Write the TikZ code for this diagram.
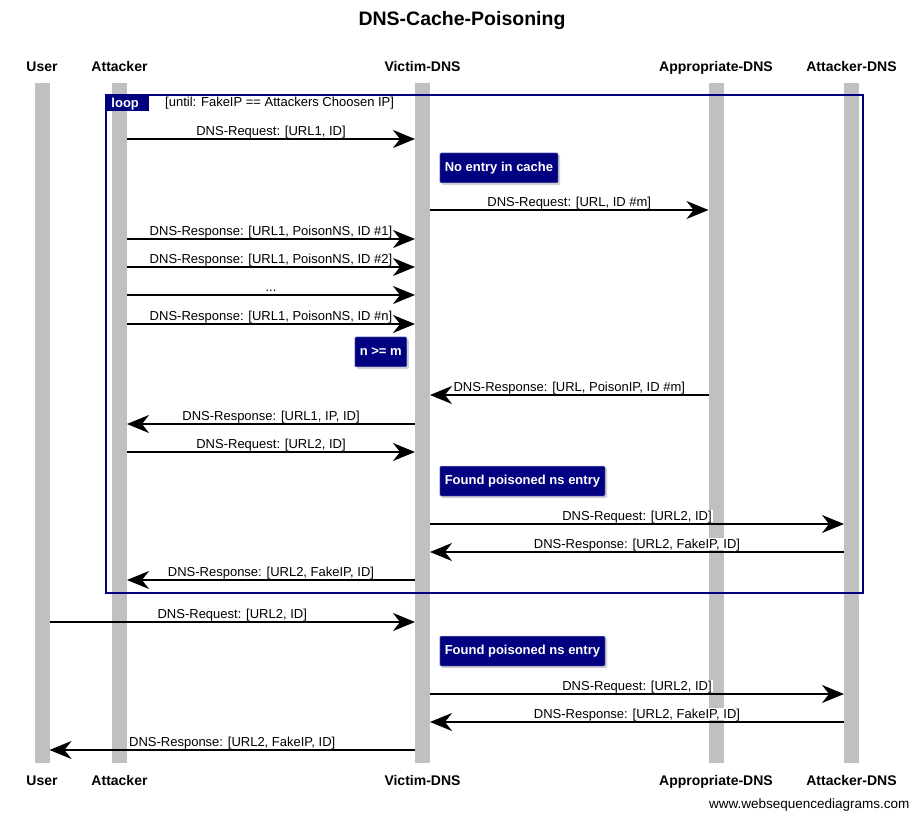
\documentclass[tikz,border=0pt]{standalone}
\usepackage{fontspec}
\setmainfont{Liberation Sans}
\usetikzlibrary{arrows.meta,calc,shadows}

\definecolor{navy}{RGB}{0,0,128}
\definecolor{lifegray}{RGB}{192,192,192}

% message from a lifeline to one on its right / on its left
\newcommand\sendR[4]{\draw[msg] ($(#1)+(7.5,#3)$) -- ($(#2)+(-7.5,#3)$) node[lbl,midway] {#4};}
\newcommand\sendL[4]{\draw[msg] ($(#1)+(-7.5,#3)$) -- ($(#2)+(7.5,#3)$) node[lbl,midway] {#4};}

\begin{document}
\begin{tikzpicture}[x=1pt,y=-1pt,
  life/.style={fill=lifegray},
  head/.style={anchor=base,inner sep=0pt,font=\fontsize{14}{16}\selectfont\bfseries},
  msg/.style={line width=1.6pt,-{Stealth[length=22pt,width=18pt,inset=7pt]}},
  lbl/.style={above,yshift=1.5pt,fill=white,inner xsep=1pt,inner ysep=1pt,text depth=0pt,
    font=\fontsize{13}{15}\selectfont},
  note/.style={fill=navy,draw=navy!40,line width=0.5pt,rounded corners=1pt,text=white,
    font=\fontsize{13}{15}\selectfont\bfseries,inner xsep=5pt,minimum height=30pt,
    drop shadow={shadow xshift=2pt,shadow yshift=-2pt,fill=black!35}},
  frame/.style={draw=navy,line width=2.8pt}]

\useasboundingbox (0,0) rectangle (922,821);

\node[font=\fontsize{19.5}{22}\selectfont\bfseries] (title) at (462,21) {DNS-Cache-Poisoning};

\coordinate (U) at (42,0);
\coordinate (A) at (119.5,0);
\coordinate (V) at (422.5,0);
\coordinate (P) at (716,0);
\coordinate (X) at (851.5,0);

\foreach \n/\t in {U/User,A/Attacker,V/Victim-DNS,P/Appropriate-DNS,X/Attacker-DNS} {
  \node[head] (\n-top) at ($(\n)+(0,72)$) {\t};
  \node[head] (\n-bot) at ($(\n)+(0,785)$) {\t};
  \fill[life] ($(\n)+(-7.5,83)$) rectangle ($(\n)+(7.5,763)$);
}

% loop frame
\coordinate (L1) at (106,95);
\coordinate (L2) at (863,593);
\draw[frame] (L1) rectangle (L2);
\node[fill=navy,text=white,font=\fontsize{13}{15}\selectfont\bfseries,anchor=north west,
  minimum width=43pt,minimum height=16pt,inner sep=0pt,text depth=0pt] (looptab) at (L1) {\hspace*{-5pt}loop};
\node[anchor=west,inner sep=0pt,font=\fontsize{13}{15}\selectfont] (cond) at ($(L1)+(59,8.5)$)
  {[until: FakeIP == Attackers Choosen IP]};

\sendR{A}{V}{139}{DNS-Request: [URL1, ID]}
\node[note,anchor=west] (nocache) at ($(V)+(17,168)$) {No entry in cache};
\sendR{V}{P}{210}{DNS-Request: [URL, ID \#m]}
\sendR{A}{V}{239}{DNS-Response: [URL1, PoisonNS, ID \#1]}
\sendR{A}{V}{267}{DNS-Response: [URL1, PoisonNS, ID \#2]}
\sendR{A}{V}{295}{...}
\sendR{A}{V}{324}{DNS-Response: [URL1, PoisonNS, ID \#n]}
\node[note,anchor=east] (ngem) at ($(V)+(-15.5,352)$) {n >= m};
\sendL{P}{V}{395}{DNS-Response: [URL, PoisonIP, ID \#m]}
\sendL{V}{A}{424}{DNS-Response: [URL1, IP, ID]}
\sendR{A}{V}{452}{DNS-Request: [URL2, ID]}
\node[note,anchor=west] (found1) at ($(V)+(17,481)$) {Found poisoned ns entry};
\sendR{V}{X}{524}{DNS-Request: [URL2, ID]}
\sendL{X}{V}{552}{DNS-Response: [URL2, FakeIP, ID]}
\sendL{V}{A}{580}{DNS-Response: [URL2, FakeIP, ID]}

% after the loop
\sendR{U}{V}{622}{DNS-Request: [URL2, ID]}
\node[note,anchor=west] (found2) at ($(V)+(17,651)$) {Found poisoned ns entry};
\sendR{V}{X}{694}{DNS-Request: [URL2, ID]}
\sendL{X}{V}{722}{DNS-Response: [URL2, FakeIP, ID]}
\sendL{V}{U}{750}{DNS-Response: [URL2, FakeIP, ID]}

\node[anchor=east,font=\fontsize{13.5}{15}\selectfont] (wsd) at (913,805) {www.websequencediagrams.com};

\end{tikzpicture}
\end{document}
